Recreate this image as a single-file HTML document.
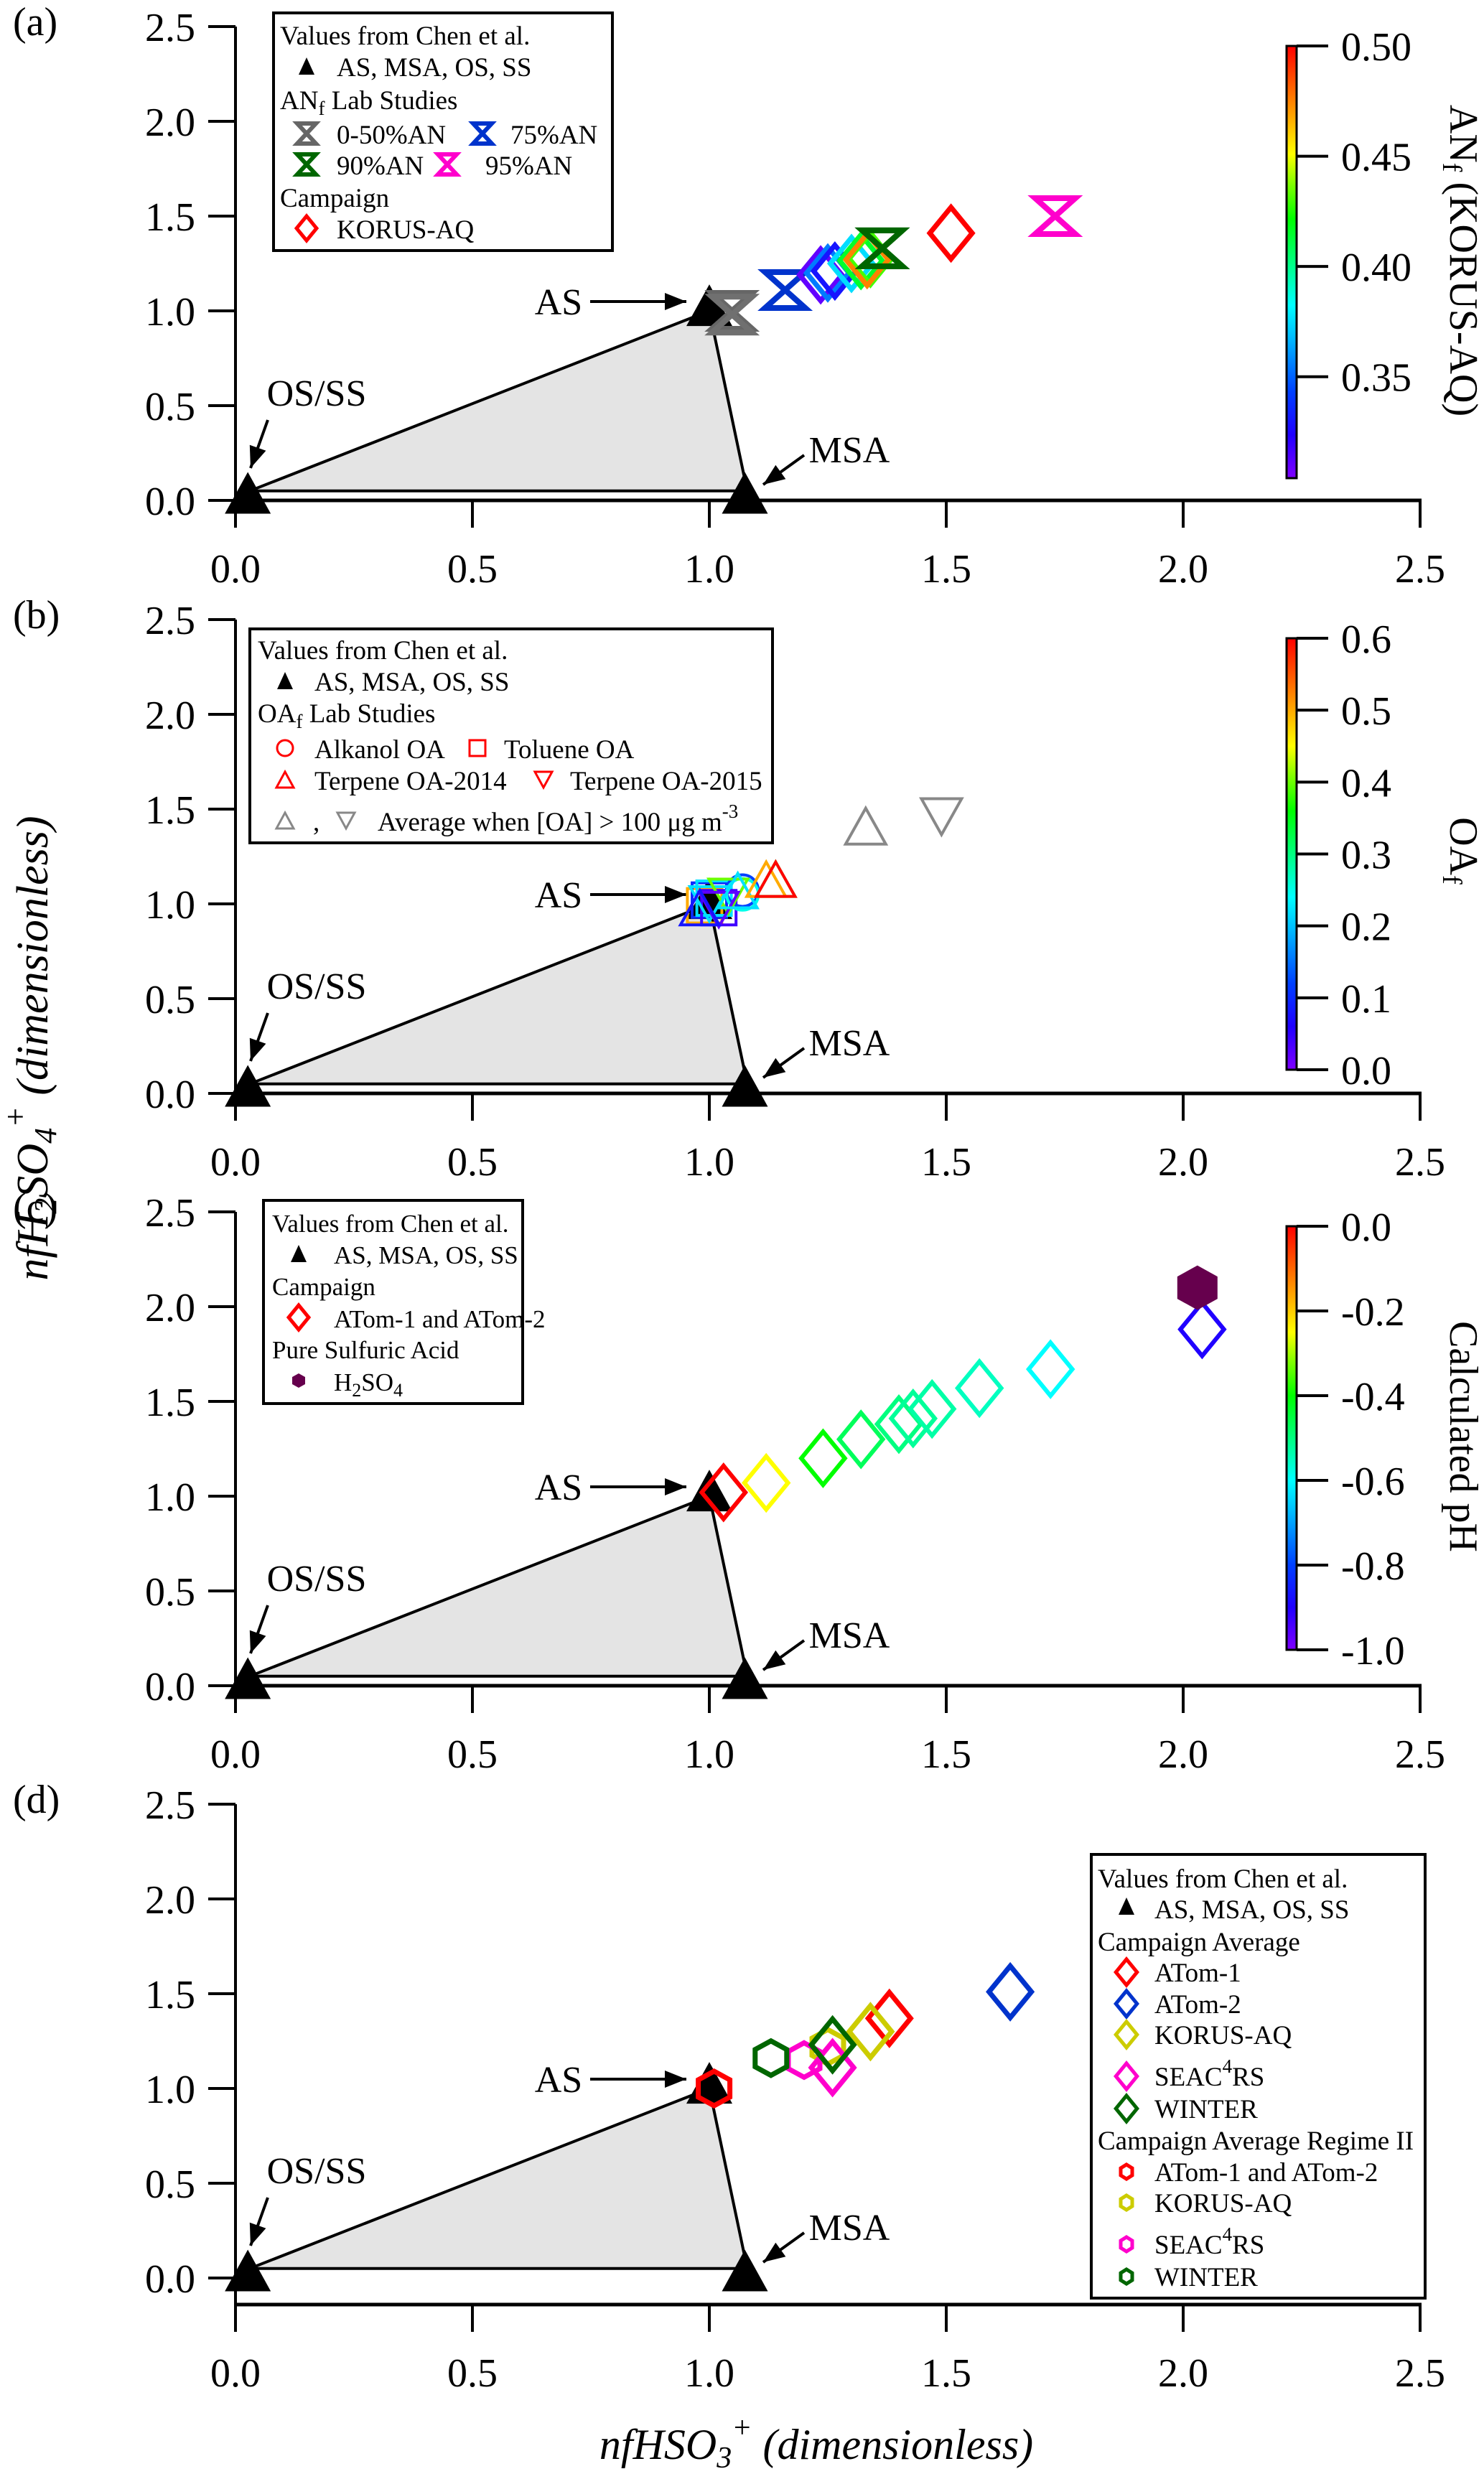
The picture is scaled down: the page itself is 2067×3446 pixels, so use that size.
<!DOCTYPE html>
<html><head><meta charset="utf-8"><style>
html,body{margin:0;padding:0;background:#fff}
svg, svg text{font-family:"Liberation Serif","Times New Roman",serif}
</style></head><body>
<svg id="fig" width="2067" height="3441" viewBox="0 0 2067 3441" xmlns="http://www.w3.org/2000/svg" font-family="Liberation Serif, serif">
<defs>
<linearGradient id="jet" x1="0" y1="1" x2="0" y2="0">
<stop offset="0" stop-color="#7f00ff"/><stop offset="0.1" stop-color="#2000ff"/><stop offset="0.2" stop-color="#0040ff"/>
<stop offset="0.33" stop-color="#00c0ff"/><stop offset="0.4" stop-color="#00ffff"/><stop offset="0.5" stop-color="#00ff80"/>
<stop offset="0.6" stop-color="#00ff00"/><stop offset="0.68" stop-color="#80ff00"/><stop offset="0.75" stop-color="#ffff00"/>
<stop offset="0.85" stop-color="#ff9900"/><stop offset="1" stop-color="#ff0000"/>
</linearGradient>
</defs>
<g id="root"></g>
</svg>
<script>
// ---- shared data ----
const xTicks = [0, 0.5, 1.0, 1.5, 2.0, 2.5];
const xTickLabels = ["0.0", "0.5", "1.0", "1.5", "2.0", "2.5"];
const yTicks = [0, 0.5, 1.0, 1.5, 2.0, 2.5];
const yTickLabels = ["0.0", "0.5", "1.0", "1.5", "2.0", "2.5"];
const refX = [0.026, 1.0, 1.075];
const refY = [0.04, 1.03, 0.04];
const regionX = [0.03, 1.0, 1.08];
const regionY = [0.05, 1.0, 0.05];
// panel a
const aHourX = [1.048, 1.048, 1.16, 1.365, 1.73];
const aHourY = [1.0, 0.98, 1.11, 1.33, 1.50];
const aHourC = ["#666666", "#707070", "#0033cc", "#006600", "#ff00cc"];
const aDiaX = [1.235, 1.25, 1.265, 1.30, 1.32, 1.34, 1.333];
const aDiaY = [1.19, 1.20, 1.21, 1.25, 1.265, 1.275, 1.27];
const aDiaV = [0.31, 0.355, 0.33, 0.375, 0.415, 0.43, 0.475];
const aRedX = [1.51];
const aRedY = [1.41];
const aCbTicks = [0.35, 0.40, 0.45, 0.50];
const aCbLabels = ["0.35", "0.40", "0.45", "0.50"];
// panel b
const bAvgUpX = [1.33]; const bAvgUpY = [1.41];
const bAvgDnX = [1.49]; const bAvgDnY = [1.46];
const bSqX = [0.99, 1.0, 1.01, 1.02]; const bSqY = [0.99, 1.02, 1.03, 0.98]; const bSqV = [0.5, 0.1, 0.22, 0.04];
const bTriUpX = [0.98, 1.06, 1.12, 1.14, 1.14]; const bTriUpY = [0.98, 1.07, 1.13, 1.13, 1.13]; const bTriUpV = [0.08, 0.22, 0.5, 0.38, 0.6];
const bTriDnX = [1.0, 1.04, 1.02]; const bTriDnY = [1.0, 1.04, 0.97]; const bTriDnV = [0.22, 0.4, 0.02];
const bCircX = [1.07, 1.07]; const bCircY = [1.07, 1.05]; const bCircV = [0.12, 0.25];
const bCbTicks = [0.0, 0.1, 0.2, 0.3, 0.4, 0.5, 0.6];
const bCbLabels = ["0.0", "0.1", "0.2", "0.3", "0.4", "0.5", "0.6"];
// panel c
const cDiaX = [1.03, 1.12, 1.24, 1.32, 1.40, 1.43, 1.47, 1.57, 1.72, 2.04];
const cDiaY = [1.02, 1.07, 1.20, 1.30, 1.38, 1.41, 1.46, 1.57, 1.67, 1.88];
const cDiaV = [0.0, -0.25, -0.4, -0.47, -0.5, -0.52, -0.53, -0.55, -0.6, -0.9];
const cAcidX = [2.03]; const cAcidY = [2.10];
const cCbTicks = [-1.0, -0.8, -0.6, -0.4, -0.2, 0.0];
const cCbLabels = ["-1.0", "-0.8", "-0.6", "-0.4", "-0.2", "0.0"];
// panel d
const dDiaX = [1.38, 1.635, 1.34, 1.26, 1.26];
const dDiaY = [1.37, 1.51, 1.30, 1.11, 1.23];
const dDiaC = ["#ff0000", "#0033cc", "#cccc00", "#ff00cc", "#006600"];
const dHexX = [1.01, 1.25, 1.20, 1.13];
const dHexY = [1.00, 1.22, 1.15, 1.16];
const dHexC = ["#ff0000", "#cccc00", "#ff00cc", "#006600"];

const NS = "http://www.w3.org/2000/svg";
const root = document.getElementById("root");
function mk(tag, attrs, parent, text) {
  const e = document.createElementNS(NS, tag);
  for (const k in attrs) e.setAttribute(k, attrs[k]);
  if (text !== undefined) e.textContent = text;
  (parent || root).appendChild(e);
  return e;
}
const X = v => 328 + 660 * v;
function jet(t) {
  t = Math.max(0, Math.min(1, t));
  const st = [[0,[127,0,255]],[0.1,[32,0,255]],[0.2,[0,64,255]],[0.33,[0,192,255]],[0.4,[0,255,255]],[0.5,[0,255,128]],[0.6,[0,255,0]],[0.68,[128,255,0]],[0.75,[255,255,0]],[0.85,[255,153,0]],[1,[255,0,0]]];
  for (let i = 1; i < st.length; i++) {
    if (t <= st[i][0]) {
      const f = (t - st[i-1][0]) / (st[i][0] - st[i-1][0]);
      const c = st[i-1][1].map((a, j) => Math.round(a + (st[i][1][j] - a) * f));
      return "rgb(" + c.join(",") + ")";
    }
  }
  return "rgb(255,0,0)";
}
function diamond(g, cx, cy, r, color, sw) {
  return mk("polygon", {points: `${cx},${cy-r} ${cx+r*0.82},${cy} ${cx},${cy+r} ${cx-r*0.82},${cy}`, fill: "none", stroke: color, "stroke-width": sw}, g);
}
function hourglass(g, cx, cy, w, h, color, sw) {
  return mk("polygon", {points: `${cx-w/2},${cy-h/2} ${cx+w/2},${cy-h/2} ${cx-w/2},${cy+h/2} ${cx+w/2},${cy+h/2}`, fill: "none", stroke: color, "stroke-width": sw, "stroke-linejoin": "miter"}, g);
}
function tri(g, cx, cy, w, h, up, fill, stroke, sw) {
  const p = up ? `${cx},${cy-h/2} ${cx+w/2},${cy+h/2} ${cx-w/2},${cy+h/2}` : `${cx-w/2},${cy-h/2} ${cx+w/2},${cy-h/2} ${cx},${cy+h/2}`;
  return mk("polygon", {points: p, fill: fill, stroke: stroke, "stroke-width": sw}, g);
}
function hexagon(g, cx, cy, w, h, fill, stroke, sw) {
  const p = `${cx},${cy-h/2} ${cx+w/2},${cy-h/4} ${cx+w/2},${cy+h/4} ${cx},${cy+h/2} ${cx-w/2},${cy+h/4} ${cx-w/2},${cy-h/4}`;
  return mk("polygon", {points: p, fill: fill, stroke: stroke, "stroke-width": sw}, g);
}
function arrow(g, x1, y1, x2, y2) {
  mk("line", {x1: x1, y1: y1, x2: x2, y2: y2, stroke: "#000", "stroke-width": 4}, g);
  const a = Math.atan2(y2 - y1, x2 - x1), L = 30, W = 12;
  const bx = x2 - L * Math.cos(a), by = y2 - L * Math.sin(a);
  const px = -Math.sin(a) * W, py = Math.cos(a) * W;
  mk("polygon", {points: `${x2},${y2} ${bx+px},${by+py} ${bx-px},${by-py}`, fill: "#000"}, g);
}

function panel(id, y0, axisY, label) {
  const Y = v => y0 - 264 * v;
  const g = mk("g", {});
  
  
  const reg = mk("polygon", {points: regionX.map((x, i) => X(x) + "," + Y(regionY[i])).join(" "), fill: "#e4e4e4", stroke: "#000", "stroke-width": 4}, g);
  
  
  const ax = mk("g", {}, g);
  
  
  mk("line", {x1: X(0) - 2, y1: axisY, x2: X(2.5) + 2, y2: axisY, stroke: "#000", "stroke-width": 5}, ax);
  xTicks.forEach((t, i) => {
    mk("line", {x1: X(t), y1: axisY, x2: X(t), y2: axisY + 38, stroke: "#000", "stroke-width": 4}, ax);
    const tl = mk("text", {x: X(t), y: axisY + 114, "text-anchor": "middle", "font-size": 56}, ax, xTickLabels[i]);
    
    
  });
  const ay = mk("g", {}, g);
  
  
  mk("line", {x1: 328, y1: Y(2.5), x2: 328, y2: axisY + 38, stroke: "#000", "stroke-width": 4}, ay);
  yTicks.forEach((t, i) => {
    mk("line", {x1: 290, y1: Y(t), x2: 328, y2: Y(t), stroke: "#000", "stroke-width": 4}, ay);
    const tl = mk("text", {x: 272, y: Y(t) + 20, "text-anchor": "end", "font-size": 56}, ay, yTickLabels[i]);
    
    
  });
  const pl = mk("text", {x: 18, y: Y(2.5) + 12, "font-size": 56}, g, label);
  
  
  const an = mk("g", {"font-size": 52}, g);
  
  
  mk("text", {x: 778, y: y0 - 259, "text-anchor": "middle"}, an, "AS");
  arrow(an, 822, y0 - 277, 956, y0 - 277);
  mk("text", {x: 441, y: y0 - 132, "text-anchor": "middle"}, an, "OS/SS");
  arrow(an, 373, y0 - 112, 349, y0 - 45);
  mk("text", {x: 1183, y: y0 - 53, "text-anchor": "middle"}, an, "MSA");
  arrow(an, 1120, y0 - 63, 1063, y0 - 22);
  refX.forEach((x, i) => {
    const t = tri(g, X(x), Y(refY[i]), 64, 58, true, "#000", "none", 0);
    
    
  });
  return {g: g, Y: Y};
}

function colorbar(y1, y2, vmin, vmax, ticks, labels, title, titleY, name) {
  const g = mk("g", {});
  
  
  mk("rect", {x: 1792, y: y1, width: 14, height: y2 - y1, fill: "url(#jet)", stroke: "#000", "stroke-width": 3}, g);
  const V = v => y2 - (v - vmin) / (vmax - vmin) * (y2 - y1);
  ticks.forEach((t, i) => {
    mk("line", {x1: 1806, y1: V(t), x2: 1850, y2: V(t), stroke: "#000", "stroke-width": 4}, g);
    mk("text", {x: 1868, y: V(t) + 20, "font-size": 56}, g, labels[i]);
  });
  const tt = mk("text", {x: 0, y: 0, "font-size": 56, "text-anchor": "middle", transform: `translate(2020,${titleY}) rotate(90)`}, g);
  tt.innerHTML = title;
  
  
}

function legendBox(x, y, w, h, name, fs) {
  const g = mk("g", {"font-size": fs || 38});
  
  
  mk("rect", {x: x, y: y, width: w, height: h, fill: "#fff", stroke: "#000", "stroke-width": 4}, g);
  return g;
}

// ===== Panel a =====
const A = panel("a", 697, 697, "(a)");
aHourX.forEach((x, i) => {
  const m = hourglass(A.g, X(x), A.Y(aHourY[i]), 56, 50, aHourC[i], 8);
  
  
});
aDiaX.forEach((x, i) => {
  const m = diamond(A.g, X(x), A.Y(aDiaY[i]), 36, jet((aDiaV[i] - 0.304) / 0.196), 7);
  
  
});
hourglass(A.g, X(aHourX[3]), A.Y(aHourY[3]), 56, 50, aHourC[3], 8);
aRedX.forEach((x, i) => {
  const m = diamond(A.g, X(x), A.Y(aRedY[i]), 36, "#ff0000", 7);
  
  
});
colorbar(64, 666, 0.304, 0.5, aCbTicks, aCbLabels, 'AN<tspan font-size="38" dy="10">f</tspan><tspan dy="-10"> (KORUS-AQ)</tspan>', 363, "colorbar-anf");
{
  const L = legendBox(381, 18, 472, 331, "legend-a", 37);
  mk("text", {x: 390, y: 62}, L, "Values from Chen et al.");
  tri(L, 427, 92, 22, 24, true, "#000", "none", 0);
  mk("text", {x: 469, y: 106}, L, "AS, MSA, OS, SS");
  const t = mk("text", {x: 390, y: 152}, L); t.innerHTML = 'AN<tspan font-size="27" dy="8">f</tspan><tspan dy="-8"> Lab Studies</tspan>';
  hourglass(L, 427, 186, 26, 28, "#666666", 6); mk("text", {x: 469, y: 200}, L, "0-50%AN");
  hourglass(L, 672, 186, 26, 28, "#0033cc", 6); mk("text", {x: 711, y: 200}, L, "75%AN");
  hourglass(L, 427, 229, 26, 28, "#006600", 6); mk("text", {x: 469, y: 243}, L, "90%AN");
  hourglass(L, 623, 229, 26, 28, "#ff00cc", 6); mk("text", {x: 676, y: 243}, L, "95%AN");
  mk("text", {x: 390, y: 288}, L, "Campaign");
  diamond(L, 427, 318, 17, "#ff0000", 5); mk("text", {x: 469, y: 332}, L, "KORUS-AQ");
}

// ===== Panel b =====
const B = panel("b", 1523, 1523, "(b)");
bAvgUpX.forEach((x, i) => { const m = tri(B.g, X(x), B.Y(bAvgUpY[i]), 56, 50, true, "none", "#888", 4);   });
bAvgDnX.forEach((x, i) => { const m = tri(B.g, X(x), B.Y(bAvgDnY[i]), 56, 50, false, "none", "#888", 4);   });
bSqX.forEach((x, i) => { const m = mk("rect", {x: X(x) - 24, y: B.Y(bSqY[i]) - 24, width: 48, height: 48, fill: "none", stroke: jet(bSqV[i] / 0.6), "stroke-width": 4}, B.g);   });
bCircX.forEach((x, i) => { const m = mk("circle", {cx: X(x), cy: B.Y(bCircY[i]), r: 22, fill: "none", stroke: jet(bCircV[i] / 0.6), "stroke-width": 4}, B.g);   });
bTriDnX.forEach((x, i) => { const m = tri(B.g, X(x), B.Y(bTriDnY[i]), 54, 48, false, "none", jet(bTriDnV[i] / 0.6), 4);   });
bTriUpX.forEach((x, i) => { const m = tri(B.g, X(x), B.Y(bTriUpY[i]), 54, 48, true, "none", jet(bTriUpV[i] / 0.6), 4);   });
colorbar(889, 1490, 0, 0.6, bCbTicks, bCbLabels, 'OA<tspan font-size="38" dy="10">f</tspan>', 1185, "colorbar-oaf");
{
  const L = legendBox(348, 876, 728, 298, "legend-b", 37);
  mk("text", {x: 359, y: 918}, L, "Values from Chen et al.");
  tri(L, 397, 948, 22, 24, true, "#000", "none", 0);
  mk("text", {x: 438, y: 962}, L, "AS, MSA, OS, SS");
  const t = mk("text", {x: 359, y: 1006}, L); t.innerHTML = 'OA<tspan font-size="27" dy="8">f</tspan><tspan dy="-8"> Lab Studies</tspan>';
  mk("circle", {cx: 397, cy: 1042, r: 11, fill: "none", stroke: "#ff0000", "stroke-width": 3}, L); mk("text", {x: 438, y: 1056}, L, "Alkanol OA");
  mk("rect", {x: 654, y: 1031, width: 22, height: 22, fill: "none", stroke: "#ff0000", "stroke-width": 3}, L); mk("text", {x: 702, y: 1056}, L, "Toluene OA");
  tri(L, 397, 1086, 24, 22, true, "none", "#ff0000", 3); mk("text", {x: 438, y: 1100}, L, "Terpene OA-2014");
  tri(L, 757, 1086, 24, 22, false, "none", "#ff0000", 3); mk("text", {x: 794, y: 1100}, L, "Terpene OA-2015");
  tri(L, 397, 1143, 24, 22, true, "none", "#888", 3); mk("text", {x: 436, y: 1157}, L, ",");
  tri(L, 482, 1143, 24, 22, false, "none", "#888", 3);
  const t2 = mk("text", {x: 526, y: 1157}, L); t2.innerHTML = 'Average when [OA] &gt; 100 μg m<tspan font-size="27" dy="-18">-3</tspan>';
}

// ===== Panel c =====
const C = panel("c", 2348, 2348, "(c)");
cDiaX.forEach((x, i) => {
  const m = diamond(C.g, X(x), C.Y(cDiaY[i]), 37, jet(cDiaV[i] + 1), 6);
  
  
});
cAcidX.forEach((x, i) => {
  const m = hexagon(C.g, X(x), C.Y(cAcidY[i]), 56, 62, "#66004d", "none", 0);
  
  
});
colorbar(1708, 2298, -1, 0, cCbTicks, cCbLabels, 'Calculated pH', 2001, "colorbar-ph");
{
  const L = legendBox(367, 1672, 361, 283, "legend-c", 35);
  mk("text", {x: 379, y: 1716}, L, "Values from Chen et al.");
  tri(L, 416, 1746, 22, 24, true, "#000", "none", 0);
  mk("text", {x: 465, y: 1760}, L, "AS, MSA, OS, SS");
  mk("text", {x: 379, y: 1804}, L, "Campaign");
  diamond(L, 416, 1835, 17, "#ff0000", 5); mk("text", {x: 465, y: 1849}, L, "ATom-1 and ATom-2");
  mk("text", {x: 379, y: 1892}, L, "Pure Sulfuric Acid");
  hexagon(L, 416, 1923, 18, 20, "#66004d", "none", 0);
  const t = mk("text", {x: 465, y: 1937}, L); t.innerHTML = 'H<tspan font-size="26" dy="8">2</tspan><tspan dy="-8">SO</tspan><tspan font-size="26" dy="8">4</tspan>';
}

// ===== Panel d =====
const D = panel("d", 3173, 3210, "(d)");
dHexX.forEach((x, i) => {
  const m = hexagon(D.g, X(x), D.Y(dHexY[i]), 44, 48, "none", dHexC[i], 7);
  
  
});
dDiaX.forEach((x, i) => {
  const m = diamond(D.g, X(x), D.Y(dDiaY[i]), 36, dDiaC[i], 7);
  
  
});
{
  const L = legendBox(1520, 2583, 465, 618, "legend-d", 37);
  const rows = [2616, 2659, 2704, 2747, 2791, 2834, 2892, 2937, 2981, 3025, 3068, 3126, 3171];
  const b = 13;
  mk("text", {x: 1529, y: rows[0] + b}, L, "Values from Chen et al.");
  tri(L, 1569, rows[1] - 4, 22, 24, true, "#000", "none", 0); mk("text", {x: 1608, y: rows[1] + b}, L, "AS, MSA, OS, SS");
  mk("text", {x: 1529, y: rows[2] + b}, L, "Campaign Average");
  const names = ["ATom-1", "ATom-2", "KORUS-AQ", "SEAC", "WINTER"];
  const cols = ["#ff0000", "#0033cc", "#cccc00", "#ff00cc", "#006600"];
  for (let i = 0; i < 5; i++) {
    diamond(L, 1569, rows[3 + i], 18, cols[i], 5);
    const t = mk("text", {x: 1608, y: rows[3 + i] + b}, L);
    if (i === 3) t.innerHTML = 'SEAC<tspan font-size="27" dy="-18">4</tspan><tspan dy="18">RS</tspan>'; else t.textContent = names[i];
  }
  mk("text", {x: 1529, y: rows[8] + b}, L, "Campaign Average Regime II");
  const n2 = ["ATom-1 and ATom-2", "KORUS-AQ", "SEAC", "WINTER"];
  const c2 = ["#ff0000", "#cccc00", "#ff00cc", "#006600"];
  for (let i = 0; i < 4; i++) {
    hexagon(L, 1569, rows[9 + i], 16, 20, "none", c2[i], 5);
    const t = mk("text", {x: 1608, y: rows[9 + i] + b}, L);
    if (i === 2) t.innerHTML = 'SEAC<tspan font-size="27" dy="-18">4</tspan><tspan dy="18">RS</tspan>'; else t.textContent = n2[i];
  }
}

// axis titles
const yt = mk("text", {x: 0, y: 0, "font-size": 62, "font-style": "italic", "text-anchor": "middle", transform: "translate(66,1460) rotate(-90)"});
yt.innerHTML = 'nfH<tspan font-size="44" baseline-shift="-12">2</tspan>SO<tspan font-size="44" baseline-shift="-12">4</tspan><tspan font-size="44" baseline-shift="30">+</tspan> (dimensionless)';


const xt = mk("text", {x: 1137, y: 3425, "font-size": 60, "font-style": "italic", "text-anchor": "middle"});
xt.innerHTML = 'nfHSO<tspan font-size="42" baseline-shift="-12">3</tspan><tspan font-size="42" baseline-shift="30">+</tspan> (dimensionless)';


</script>
</body></html>
